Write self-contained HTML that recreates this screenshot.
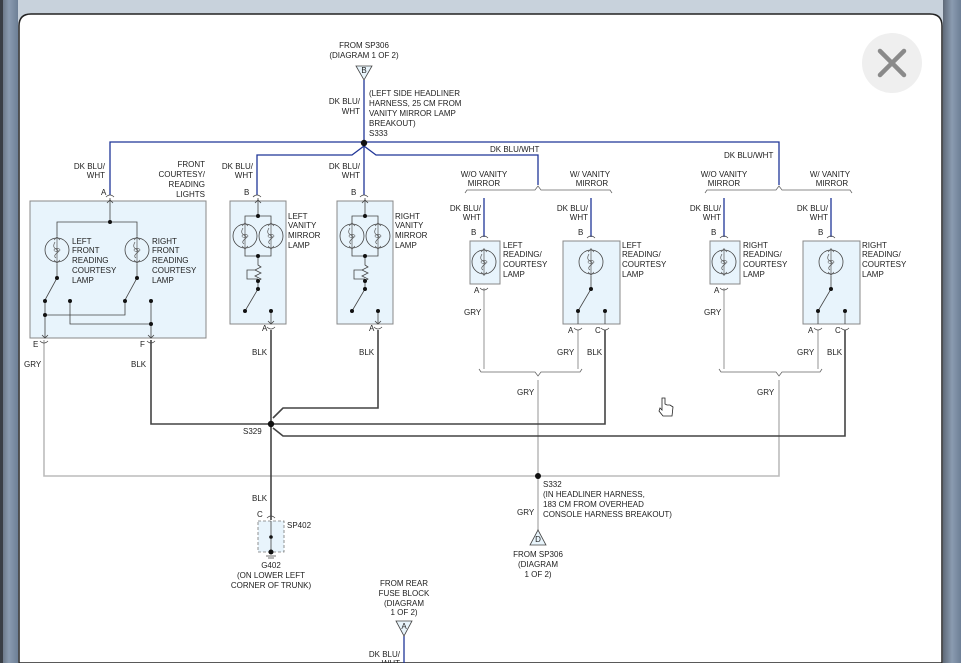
<!DOCTYPE html>
<html><head><meta charset="utf-8"><style>
html,body{margin:0;padding:0;width:961px;height:663px;overflow:hidden;background:#c9d3dc}
svg{display:block}
text{font-family:"Liberation Sans",sans-serif;font-size:8px;fill:#222}
</style></head><body>
<svg width="961" height="663" viewBox="0 0 961 663" xmlns="http://www.w3.org/2000/svg">
<defs>
<linearGradient id="lg" x1="0" x2="1"><stop offset="0" stop-color="#5f6a78"/><stop offset="0.5" stop-color="#8a9bb0"/><stop offset="1" stop-color="#6d7f96"/></linearGradient>
<g id="lamp"><circle cx="0" cy="0" r="12" fill="none" stroke="#444" stroke-width="0.8"/><path d="M0,-14 L0,14 M-3,-10 L0,-13 L3,-10 M-3,10 L0,13 L3,10" stroke="#555" fill="none" stroke-width="0.7"/><path d="M-2,-8 Q-5,-3 -1,-1 Q3,1 0,3 Q-4,6 -1,8" stroke="#555" fill="none" stroke-width="0.7"/><ellipse cx="0" cy="0" rx="3" ry="1.6" fill="none" stroke="#555" stroke-width="0.6"/></g>
<g id="cup"><path d="M-4,0 Q0,-4 4,0" fill="none" stroke="#444" stroke-width="0.8"/></g>
<g id="cdn"><path d="M-4,0 Q0,4 4,0" fill="none" stroke="#444" stroke-width="0.8"/></g>
</defs>
<rect x="0" y="0" width="961" height="663" fill="#c8d2dc"/>
<rect x="0" y="0" width="18" height="663" fill="url(#lg)"/>
<rect x="0" y="0" width="3" height="663" fill="#3a3f46"/>
<rect x="943" y="0" width="18" height="663" fill="url(#lg)"/>
<path d="M19,663 L19,26 Q19,14 31,14 L930,14 Q942,14 942,26 L942,663 Z" fill="#fff" stroke="#222" stroke-width="1.5"/>
<circle cx="892" cy="63" r="30" fill="#efefef"/>
<path d="M880,51 L904,75 M904,51 L880,75" stroke="#8a8a8a" stroke-width="4.5" stroke-linecap="round"/>

<!-- top connector -->
<text x="364" y="48" text-anchor="middle">FROM SP306</text>
<text x="364" y="58" text-anchor="middle">(DIAGRAM 1 OF 2)</text>
<path d="M356,66 L372,66 L364,80 Z" fill="#e8f4fb" stroke="#444" stroke-width="0.8"/>
<text x="364" y="73" text-anchor="middle" font-size="7">B</text>
<text x="360" y="104" text-anchor="end">DK BLU/</text><text x="360" y="114" text-anchor="end">WHT</text>
<text x="369" y="96">(LEFT SIDE HEADLINER</text><text x="369" y="106">HARNESS, 25 CM FROM</text><text x="369" y="116">VANITY MIRROR LAMP</text><text x="369" y="126">BREAKOUT)</text><text x="369" y="136">S333</text>

<g stroke="#1f3597" stroke-width="1.3" fill="none">
<path d="M364,80 L364,195"/>
<path d="M110,195 L110,142 L779,142 L779,185"/>
<path d="M364,146 L352,155 L257,155 L257,195"/>
<path d="M364,146 L376,155 L538,155 L538,185"/>
<path d="M484,198 L484,237 M591,198 L591,237 M724,198 L724,237 M831,198 L831,237"/>
<path d="M404,636 L404,663"/>
</g>
<circle cx="364" cy="143" r="3.2" fill="#111"/>
<text x="490" y="152">DK BLU/WHT</text>
<text x="724" y="158">DK BLU/WHT</text>

<!-- brackets -->
<g stroke="#666" stroke-width="0.8" fill="none">
<path d="M465,193 L467,190 L535,190 L538,186 L541,190 L610,190 L612,193"/>
<path d="M705,193 L707,190 L776,190 L779,186 L782,190 L850,190 L852,193"/>
<path d="M479,369 L481,372 L535,372 L538,376 L541,372 L580,372 L582,369"/>
<path d="M719,369 L721,372 L776,372 L779,376 L782,372 L820,372 L822,369"/>
</g>
<text x="484" y="177" text-anchor="middle">W/O VANITY</text><text x="484" y="186" text-anchor="middle">MIRROR</text>
<text x="590" y="177" text-anchor="middle">W/ VANITY</text><text x="592" y="186" text-anchor="middle">MIRROR</text>
<text x="724" y="177" text-anchor="middle">W/O VANITY</text><text x="724" y="186" text-anchor="middle">MIRROR</text>
<text x="830" y="177" text-anchor="middle">W/ VANITY</text><text x="832" y="186" text-anchor="middle">MIRROR</text>

<!-- gray wires -->
<g stroke="#bcbcbc" stroke-width="1.6" fill="none">
<path d="M44,340 L44,476 L779,476 L779,380"/>
<path d="M538,380 L538,530"/>
<path d="M484,288 L484,369 M578,330 L578,369 M724,288 L724,369 M818,330 L818,369"/>
</g>
<circle cx="538" cy="476" r="3" fill="#111"/>
<!-- black wires -->
<g stroke="#444" stroke-width="1.6" fill="none">
<path d="M151,340 L151,424 L271,424"/>
<path d="M271,330 L271,520"/>
<path d="M378,330 L378,408 L283,408 L273,418"/>
<path d="M271,424 L605,424 L605,330"/>
<path d="M273,428 L283,436 L845,436 L845,330"/>
</g>
<circle cx="271" cy="424" r="3.2" fill="#111"/>

<!-- left box -->
<rect x="30" y="201" width="176" height="137" fill="#e8f4fc" stroke="#888" stroke-width="1"/>
<text x="105" y="169" text-anchor="end">DK BLU/</text><text x="105" y="178" text-anchor="end">WHT</text>
<text x="101" y="195">A</text><use href="#cup" x="110" y="197"/>
<text x="205" y="167" text-anchor="end">FRONT</text><text x="205" y="177" text-anchor="end">COURTESY/</text><text x="205" y="187" text-anchor="end">READING</text><text x="205" y="197" text-anchor="end">LIGHTS</text>
<g stroke="#444" stroke-width="0.8" fill="none">
<path d="M110,198 L110,222 M57,236 L57,222 L137,222 L137,236 M57,264 L57,278 L45,300 M137,264 L137,278 L125,300 M45,301 L45,338 M45,315 L125,315 L125,301 M70,301 L70,324 L151,324 M151,301 L151,338"/>
<path d="M107,203 L110,200 L113,203 M42,335 L45,338 L48,335 M148,335 L151,338 L154,335"/>
</g>
<use href="#lamp" x="57" y="250"/><use href="#lamp" x="137" y="250"/>
<g fill="#111"><circle cx="110" cy="222" r="2"/><circle cx="57" cy="278" r="2"/><circle cx="45" cy="301" r="2"/><circle cx="70" cy="301" r="2"/><circle cx="137" cy="278" r="2"/><circle cx="125" cy="301" r="2"/><circle cx="151" cy="301" r="2"/><circle cx="45" cy="315" r="2"/><circle cx="151" cy="324" r="2"/></g>
<text x="72" y="244">LEFT</text><text x="72" y="253">FRONT</text><text x="72" y="263">READING</text><text x="72" y="273">COURTESY</text><text x="72" y="283">LAMP</text>
<text x="152" y="244">RIGHT</text><text x="152" y="253">FRONT</text><text x="152" y="263">READING</text><text x="152" y="273">COURTESY</text><text x="152" y="283">LAMP</text>
<text x="33" y="347">E</text><use href="#cdn" x="44" y="341"/>
<text x="140" y="347">F</text><use href="#cdn" x="151" y="341"/>
<text x="24" y="367">GRY</text><text x="131" y="367">BLK</text>

<!-- vanity boxes -->
<g id="van">
<rect x="230" y="201" width="56" height="123" fill="#e8f4fc" stroke="#888" stroke-width="1"/>
<text x="253" y="169" text-anchor="end">DK BLU/</text><text x="253" y="178" text-anchor="end">WHT</text>
<text x="244" y="195">B</text><use href="#cup" x="257" y="197"/>
<g stroke="#444" stroke-width="0.8" fill="none">
<path d="M258,198 L258,216 M245,224 L245,216 L271,216 L271,224 M245,248 L245,256 L271,256 L271,248 M258,256 L258,265 L261,267 L255,270 L261,273 L255,276 L261,279 L258,281 L258,289 L245,311 M255,270 L247,270 L247,279 L258,279 M271,311 L271,324"/>
<path d="M255,203 L258,200 L261,203 M268,321 L271,324 L274,321"/>
</g>
<use href="#lamp" x="245" y="236"/><use href="#lamp" x="271" y="236"/>
<g fill="#111"><circle cx="258" cy="216" r="2"/><circle cx="258" cy="256" r="2"/><circle cx="258" cy="281" r="2"/><circle cx="258" cy="289" r="2"/><circle cx="245" cy="311" r="2"/><circle cx="271" cy="311" r="2"/></g>
<text x="262" y="331">A</text><use href="#cdn" x="271" y="327"/>
<text x="252" y="355">BLK</text>
</g>
<use href="#van" x="107" y="0"/>
<text x="288" y="219">LEFT</text><text x="288" y="228">VANITY</text><text x="288" y="238">MIRROR</text><text x="288" y="248">LAMP</text>
<text x="395" y="219">RIGHT</text><text x="395" y="228">VANITY</text><text x="395" y="238">MIRROR</text><text x="395" y="248">LAMP</text>

<!-- W/O boxes -->
<g id="wo">
<rect x="470" y="241" width="30" height="43" fill="#e8f4fc" stroke="#888" stroke-width="1"/>
<text x="481" y="211" text-anchor="end">DK BLU/</text><text x="481" y="220" text-anchor="end">WHT</text>
<text x="471" y="235">B</text><use href="#cup" x="484" y="238"/>
<use href="#lamp" x="484" y="262"/>
<text x="474" y="293">A</text><use href="#cdn" x="484" y="288"/>
<text x="464" y="315">GRY</text>
</g>
<use href="#wo" x="240" y="0"/>
<!-- W/ boxes -->
<g id="wb">
<rect x="563" y="241" width="57" height="83" fill="#e8f4fc" stroke="#888" stroke-width="1"/>
<text x="588" y="211" text-anchor="end">DK BLU/</text><text x="588" y="220" text-anchor="end">WHT</text>
<text x="578" y="235">B</text><use href="#cup" x="591" y="238"/>
<use href="#lamp" x="591" y="262"/>
<g stroke="#444" stroke-width="0.8" fill="none"><path d="M591,276 L591,289 L578,311 L578,324 M605,311 L605,324"/></g>
<g fill="#111"><circle cx="591" cy="289" r="2"/><circle cx="578" cy="311" r="2"/><circle cx="605" cy="311" r="2"/></g>
<text x="568" y="333">A</text><use href="#cdn" x="578" y="328"/>
<text x="595" y="333">C</text><use href="#cdn" x="605" y="328"/>
<text x="557" y="355">GRY</text><text x="587" y="355">BLK</text>
</g>
<use href="#wb" x="240" y="0"/>
<text x="503" y="248">LEFT</text><text x="503" y="257">READING/</text><text x="503" y="267">COURTESY</text><text x="503" y="277">LAMP</text>
<text x="622" y="248">LEFT</text><text x="622" y="257">READING/</text><text x="622" y="267">COURTESY</text><text x="622" y="277">LAMP</text>
<text x="743" y="248">RIGHT</text><text x="743" y="257">READING/</text><text x="743" y="267">COURTESY</text><text x="743" y="277">LAMP</text>
<text x="862" y="248">RIGHT</text><text x="862" y="257">READING/</text><text x="862" y="267">COURTESY</text><text x="862" y="277">LAMP</text>
<text x="517" y="395">GRY</text><text x="757" y="395">GRY</text>

<!-- bottom -->
<text x="243" y="434">S329</text>
<text x="252" y="501">BLK</text>
<text x="257" y="517">C</text><use href="#cup" x="271" y="518"/>
<rect x="258" y="521" width="26" height="31" fill="#e8f4fc" stroke="#777" stroke-width="0.8" stroke-dasharray="3,2"/>
<g stroke="#444" stroke-width="0.8" fill="none"><path d="M271,521 L271,552 M266,556 L276,556 M268,558 L274,558"/></g>
<circle cx="271" cy="537" r="1.8" fill="#111"/><circle cx="271" cy="552" r="2.5" fill="#111"/>
<text x="287" y="528">SP402</text>
<text x="271" y="568" text-anchor="middle">G402</text>
<text x="271" y="578" text-anchor="middle">(ON LOWER LEFT</text>
<text x="271" y="588" text-anchor="middle">CORNER OF TRUNK)</text>
<text x="543" y="487">S332</text><text x="543" y="497">(IN HEADLINER HARNESS,</text><text x="543" y="507">183 CM FROM OVERHEAD</text><text x="543" y="517">CONSOLE HARNESS BREAKOUT)</text>
<text x="517" y="515">GRY</text>
<path d="M530,545 L546,545 L538,530 Z" fill="#e8f4fb" stroke="#444" stroke-width="0.8"/>
<text x="538" y="542" text-anchor="middle" font-size="7">D</text>
<text x="538" y="557" text-anchor="middle">FROM SP306</text><text x="538" y="567" text-anchor="middle">(DIAGRAM</text><text x="538" y="577" text-anchor="middle">1 OF 2)</text>
<text x="404" y="586" text-anchor="middle">FROM REAR</text><text x="404" y="596" text-anchor="middle">FUSE BLOCK</text><text x="404" y="606" text-anchor="middle">(DIAGRAM</text><text x="404" y="615" text-anchor="middle">1 OF 2)</text>
<path d="M396,621 L412,621 L404,636 Z" fill="#e8f4fb" stroke="#444" stroke-width="0.8"/>
<text x="404" y="629" text-anchor="middle" font-size="7">A</text>
<text x="400" y="657" text-anchor="end">DK BLU/</text><text x="400" y="666" text-anchor="end">WHT</text>
<!-- cursor -->
<path d="M662,398 L662,410 L660,408 L659,411 L663,416 L672,416 L673,407 L670,405 L667,405 L665,404 L665,398 Z" fill="#fff" stroke="#222" stroke-width="0.8"/>
</svg>
</body></html>
